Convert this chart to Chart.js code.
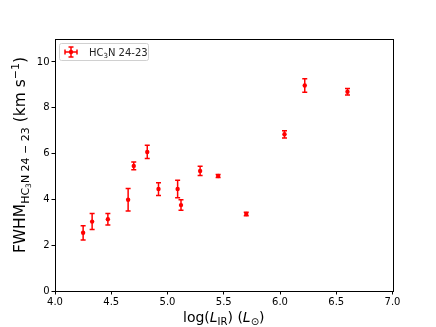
<!DOCTYPE html>
<html>
<head>
<meta charset="utf-8">
<script src="https://cdn.jsdelivr.net/npm/chart.js@4"></script>
<style>
html, body { margin: 0; padding: 0; background: #fff; }
#wrap { width: 436px; height: 327px; }
</style>
</head>
<body>
<div id="wrap"><canvas id="chart" width="436" height="327"></canvas></div>
<script>
// values
const logLIR = [4.25, 4.33, 4.47, 4.65, 4.70, 4.82, 4.92, 5.09, 5.12, 5.29, 5.45, 5.70, 6.04, 6.22, 6.60];
const fwhm = [2.54, 3.03, 3.13, 3.98, 5.46, 6.07, 4.45, 4.45, 3.75, 5.24, 5.02, 3.36, 6.84, 8.97, 8.70];
const fwhmErr = [0.31, 0.35, 0.25, 0.49, 0.17, 0.29, 0.28, 0.38, 0.23, 0.20, 0.07, 0.08, 0.16, 0.29, 0.14];
const xTicks = [4.0, 4.5, 5.0, 5.5, 6.0, 6.5, 7.0];
const yTicks = [0, 2, 4, 6, 8, 10];

const red = '#ff0000';
const fam = "'DejaVu Sans', sans-serif";

// draw a run of text pieces (for sub/superscripts), centred on x
const drawRich = (ctx, parts, x, y) => {
    let total = 0;
    parts.forEach(p => {
        ctx.font = (p.italic ? 'italic ' : '') + p.size + 'px ' + fam;
        p.w = ctx.measureText(p.t).width;
        total += p.w;
    });
    let cx = x - total / 2;
    parts.forEach(p => {
        ctx.font = (p.italic ? 'italic ' : '') + p.size + 'px ' + fam;
        ctx.fillText(p.t, cx, y + (p.dy || 0));
        cx += p.w;
    });
};

const errorBars = {
    id: 'errorBars',
    afterDatasetsDraw(chart) {
        const ctx = chart.ctx;
        const xs = chart.scales.x, ys = chart.scales.y;
        ctx.save();
        ctx.strokeStyle = red;
        ctx.lineWidth = 1.5;
        for (let i = 0; i < logLIR.length; i++) {
            let px = xs.getPixelForValue(logLIR[i]);
            let top = ys.getPixelForValue(fwhm[i] + fwhmErr[i]);
            let bot = ys.getPixelForValue(fwhm[i] - fwhmErr[i]);
            ctx.beginPath();
            ctx.moveTo(px, top); ctx.lineTo(px, bot);
            ctx.moveTo(px - 2.5, top); ctx.lineTo(px + 2.5, top);
            ctx.moveTo(px - 2.5, bot); ctx.lineTo(px + 2.5, bot);
            ctx.stroke();
        }
        ctx.restore();
    }
};

const frameAndLabels = {
    id: 'frameAndLabels',
    afterDraw(chart) {
        const ctx = chart.ctx;
        const a = chart.chartArea;
        ctx.save();
        ctx.strokeStyle = '#000';
        ctx.lineWidth = 1;
        ctx.strokeRect(Math.round(a.left) + 0.5, Math.round(a.top) + 0.5, Math.round(a.right - a.left), Math.round(a.bottom - a.top));

        ctx.fillStyle = '#000';
        ctx.textBaseline = 'alphabetic';
        // x axis title
        drawRich(ctx, [
            { t: 'log(', size: 14 },
            { t: 'L', size: 14, italic: true },
            { t: 'IR', size: 10, dy: 3 },
            { t: ') (', size: 14 },
            { t: 'L', size: 14, italic: true },
            { t: '\u2299', size: 10, dy: 3 },
            { t: ')', size: 14 }
        ], (a.left + a.right) / 2, 322);

        // y axis title
        ctx.save();
        ctx.translate(25, 155);
        ctx.rotate(-Math.PI / 2);
        drawRich(ctx, [
            { t: 'FWHM', size: 15.5 },
            { t: 'HC', size: 11, dy: 3.5 },
            { t: '3', size: 7.5, dy: 5.5 },
            { t: 'N 24 \u2212 23', size: 11, dy: 3.5 },
            { t: ' (km s', size: 15.5 },
            { t: '\u22121', size: 11, dy: -6.5 },
            { t: ')', size: 15.5 }
        ], 0, 0);
        ctx.restore();

        // legend
        const lx = a.left + 4, ly = a.top + 4;
        ctx.fillStyle = 'rgba(255,255,255,0.8)';
        ctx.strokeStyle = '#d0d0d0';
        ctx.lineWidth = 1;
        ctx.beginPath();
        ctx.roundRect(lx + 0.5, ly + 0.5, 89, 17, 2);
        ctx.fill();
        ctx.stroke();
        ctx.strokeStyle = red;
        ctx.lineWidth = 1.5;
        const mx = lx + 12, my = ly + 9;
        ctx.beginPath();
        ctx.moveTo(mx - 6, my); ctx.lineTo(mx + 6, my);
        ctx.moveTo(mx, my - 5); ctx.lineTo(mx, my + 5);
        ctx.moveTo(mx - 2.5, my - 5); ctx.lineTo(mx + 2.5, my - 5);
        ctx.moveTo(mx - 2.5, my + 5); ctx.lineTo(mx + 2.5, my + 5);
        ctx.moveTo(mx - 6, my - 2.5); ctx.lineTo(mx - 6, my + 2.5);
        ctx.moveTo(mx + 6, my - 2.5); ctx.lineTo(mx + 6, my + 2.5);
        ctx.stroke();
        ctx.fillStyle = red;
        ctx.beginPath();
        ctx.arc(mx, my, 2.2, 0, Math.PI * 2);
        ctx.fill();
        ctx.fillStyle = '#222';
        ctx.textAlign = 'left';
        ctx.font = '10px ' + fam;
        let tx = lx + 30;
        ctx.fillText('HC', tx, my + 4);
        tx += ctx.measureText('HC').width;
        ctx.font = '7px ' + fam;
        ctx.fillText('3', tx, my + 6);
        tx += ctx.measureText('3').width;
        ctx.font = '10px ' + fam;
        ctx.fillText('N 24-23', tx, my + 4);
        ctx.restore();
    }
};

const points = logLIR.map((v, i) => ({ x: v, y: fwhm[i] }));

new Chart(document.getElementById('chart'), {
    type: 'scatter',
    data: {
        datasets: [{
            label: 'HC3N 24-23',
            data: points,
            backgroundColor: red,
            borderColor: red,
            pointRadius: 2.2,
            pointBorderWidth: 0
        }]
    },
    options: {
        responsive: false,
        animation: false,
        devicePixelRatio: 1,
        layout: { padding: { left: 0, top: 39, right: 43.5, bottom: 0 } },
        plugins: { legend: { display: false }, tooltip: { enabled: false } },
        scales: {
            x: {
                type: 'linear',
                min: 4, max: 7,
                afterBuildTicks: (s) => { s.ticks = xTicks.map(v => ({ value: v })); },
                afterFit: (s) => { s.height = 36; },
                grid: { display: true, drawOnChartArea: false, drawTicks: true, tickLength: 3.5, color: '#000' },
                border: { display: true, color: '#000', width: 1 },
                ticks: {
                    color: '#000', padding: 2, maxRotation: 0,
                    font: { family: fam, size: 10 },
                    callback: (v) => Number(v).toFixed(1)
                }
            },
            y: {
                type: 'linear',
                min: 0, max: 11,
                afterBuildTicks: (s) => { s.ticks = yTicks.map(v => ({ value: v })); },
                afterFit: (s) => { s.width = 55; },
                grid: { display: true, drawOnChartArea: false, drawTicks: true, tickLength: 3.5, color: '#000' },
                border: { display: true, color: '#000', width: 1 },
                ticks: {
                    color: '#000', padding: 2,
                    font: { family: fam, size: 10 }
                }
            }
        }
    },
    plugins: [errorBars, frameAndLabels]
});
</script>
</body>
</html>
